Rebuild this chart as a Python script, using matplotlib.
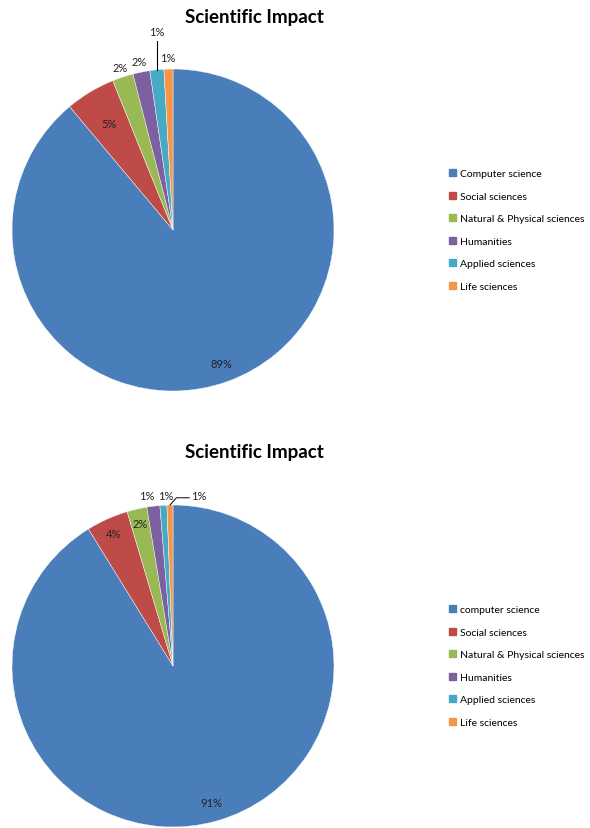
import matplotlib
matplotlib.use("Agg")
import matplotlib.pyplot as plt
import numpy as np

plt.rcParams['font.family'] = ['Lato', 'DejaVu Sans']

title = "Scientific Impact"
cats_top = ["Computer science", "Social sciences", "Natural & Physical sciences",
            "Humanities", "Applied sciences", "Life sciences"]
vals_top = [88.9, 5.0, 2.1, 1.7, 1.4, 0.9]
lbls_top = ["89%", "5%", "2%", "2%", "1%", "1%"]

cats_bot = ["computer science", "Social sciences", "Natural & Physical sciences",
            "Humanities", "Applied sciences", "Life sciences"]
vals_bot = [91.2, 4.2, 2.0, 1.3, 0.7, 0.6]
lbls_bot = ["91%", "4%", "2%", "1%", "1%", "1%"]

colors = ["#4A7EBB", "#BE4B48", "#98B954", "#7D60A0", "#46AAC5", "#F79646"]

W, H = 590, 829
fig = plt.figure(figsize=(W / 100, H / 100), dpi=100)


def px_axes(cx, cy, r):
    return fig.add_axes([(cx - r) / W, 1 - (cy + r) / H, 2 * r / W, 2 * r / H])


def draw(cx, cy, r, vals, lbls, cats, radii, shifts, leaders, title_y, leg_y):
    ax = px_axes(cx, cy, r)
    wedges, _ = ax.pie(vals, colors=colors, startangle=90, counterclock=False,
                       radius=1.0, wedgeprops=dict(edgecolor='white', linewidth=0.3))
    ax.set_xlim(-1, 1)
    ax.set_ylim(-1, 1)
    ax.set_aspect('equal')
    ax.axis('off')
    fs = 8
    for w, lab, rf, sh, ld in zip(wedges, lbls, radii, shifts, leaders):
        th = np.deg2rad((w.theta1 + w.theta2) / 2)
        ex, ey = np.cos(th), np.sin(th)
        if ld == 'vertical':
            ax.plot([ex, ex], [ey, rf - 0.055], color='black', lw=0.8, clip_on=False)
            ax.text(ex, rf, lab, ha='center', va='center', fontsize=fs, color='#222222')
        elif ld == 'elbow':
            bx, by = ex + 0.04, ey + 0.045
            tx = ex + 0.12
            ax.plot([ex, bx, tx], [ey, by, by], color='black', lw=0.7, clip_on=False)
            ax.text(tx + 0.01, by + 0.012, lab, ha='left', va='center', fontsize=fs, color='#222222')
        else:
            ax.text(rf * ex + sh, rf * ey, lab, ha='center', va='center', fontsize=fs, color='#222222')
    fig.text(254 / W, 1 - title_y / H, title, ha='center', va='center',
             fontsize=13.5, fontweight='bold', color='black')
    handles = [plt.Rectangle((0, 0), 1, 1, color=c) for c in colors]
    fig.legend(handles, cats, loc='center left', bbox_to_anchor=(445 / W, 1 - leg_y / H),
               frameon=False, fontsize=7.5, handlelength=0.65, handleheight=0.65,
               handletextpad=0.35, labelspacing=1.28, borderaxespad=0)


draw(173, 231, 161, vals_top, lbls_top, cats_top,
     [0.88, 0.77, 1.06, 1.07, 1.23, 1.07],
     [0, 0, 0, 0, 0, 0],
     [None, None, None, None, 'vertical', None], 17, 231)
draw(173, 667, 161, vals_bot, lbls_bot, cats_bot,
     [0.88, 0.9, 0.91, 1.07, 1.06, 1.07],
     [0, 0, 0, -0.03, 0.02, 0],
     [None, None, None, None, None, 'elbow'], 453, 667)

fig.savefig("out.png", dpi=100)
